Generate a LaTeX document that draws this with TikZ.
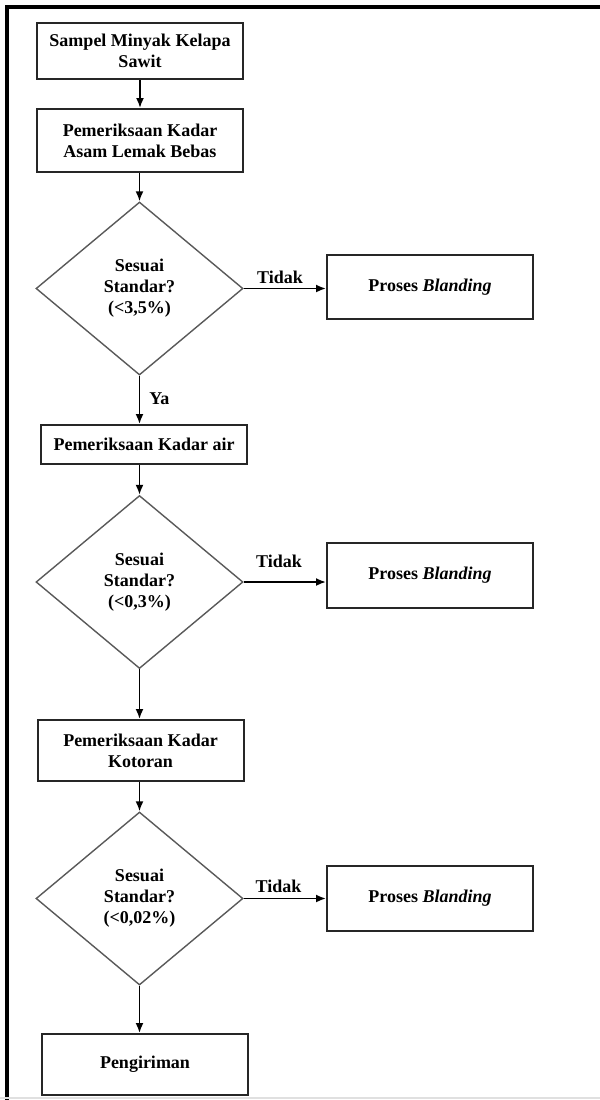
\documentclass[tikz,border=0pt]{standalone}
\usepackage{fontspec}
\setmainfont{Liberation Serif}
\usetikzlibrary{shapes.geometric,arrows.meta}
\begin{document}
\begin{tikzpicture}[x=0.5pt,y=-0.5pt,
  proc/.style={draw=black!85,line width=1pt,minimum width=103pt,inner sep=0pt,align=center,font=\bfseries\fontsize{9}{10.5}\selectfont},
  cek/.style={diamond,draw=black!65,line width=0.7pt,minimum width=103.5pt,minimum height=86.5pt,aspect=1.2,inner sep=0pt,align=center,font=\bfseries\fontsize{9}{10.5}\selectfont},
  lbl/.style={inner sep=0pt,font=\bfseries\fontsize{9}{10.5}\selectfont},
  panah/.style={-{Latex[length=5pt,width=4pt]},line width=0.9pt}]
\useasboundingbox (0,0) rectangle (600,1100);
\draw [line width=2pt] (6.5,1100) -- (6.5,7) -- (600,7);
\draw [black!12,line width=1pt] (0,1098) -- (600,1098);
\node [proc,minimum height=28pt] (sampel) at (140,51) {Sampel Minyak Kelapa\\Sawit};
\node [proc,minimum height=31.5pt] (asam) at (140,140.5) {Pemeriksaan Kadar\\Asam Lemak Bebas};
\node [cek] (cek1) at (139.5,288.5) {Sesuai\\Standar?\\(<3,5\%)};
\node [proc,minimum height=32pt] (blend1) at (430,287) {Proses \textit{Blanding}};
\node [proc,minimum height=19.5pt] (air) at (144,444.5) {Pemeriksaan Kadar air};
\node [cek] (cek2) at (139.5,582) {Sesuai\\Standar?\\(<0,3\%)};
\node [proc,minimum height=32.5pt] (blend2) at (430,575.5) {Proses \textit{Blanding}};
\node [proc,minimum height=30.5pt] (kotoran) at (140.5,750.5) {Pemeriksaan Kadar\\Kotoran};
\node [cek] (cek3) at (139.5,898.5) {Sesuai\\Standar?\\(<0,02\%)};
\node [proc,minimum height=32.5pt] (blend3) at (430,898.5) {Proses \textit{Blanding}};
\node [proc,minimum height=30.5pt] (kirim) at (145,1064.5) {Pengiriman};
\draw [panah] (sampel) -- (asam);
\draw [panah] (asam.south -| cek1.north) -- (cek1.north);
\draw [panah] (cek1.east) -- (cek1.east -| blend1.west);
\draw [panah] (cek1.south) -- (cek1.south |- air.north);
\draw [panah] (air.south -| cek2.north) -- (cek2.north);
\draw [panah] (cek2.east) -- (cek2.east -| blend2.west);
\draw [panah] (cek2.south) -- (cek2.south |- kotoran.north);
\draw [panah] (kotoran.south -| cek3.north) -- (cek3.north);
\draw [panah] (cek3.east) -- (cek3.east -| blend3.west);
\draw [panah] (cek3.south) -- (cek3.south |- kirim.north);
\node [lbl,anchor=base] (tidak1) at (280,283) {Tidak};
\node [lbl,anchor=base west] (ya1) at (149,404) {Ya};
\node [lbl,anchor=base] (tidak2) at (279,567) {Tidak};
\node [lbl,anchor=base] (tidak3) at (278.5,892) {Tidak};
\end{tikzpicture}
\end{document}
